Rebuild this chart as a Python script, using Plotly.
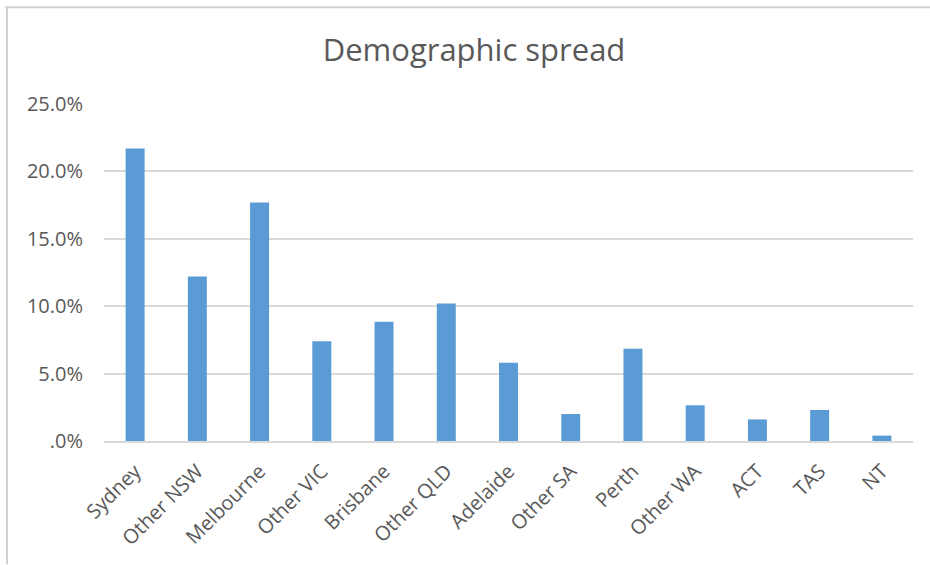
import plotly.graph_objects as go

# Share of respondents by region
regions = ["Sydney", "Other NSW", "Melbourne", "Other VIC", "Brisbane", "Other QLD",
           "Adelaide", "Other SA", "Perth", "Other WA", "ACT", "TAS", "NT"]
shares = [0.217, 0.122, 0.177, 0.074, 0.0885, 0.102,
          0.058, 0.020, 0.0685, 0.0265, 0.016, 0.023, 0.004]

y_tick_vals = [0, 0.05, 0.10, 0.15, 0.20, 0.25]
y_tick_text = [".0%", "5.0%", "10.0%", "15.0%", "20.0%", "25.0%"]

W, H = 930, 565
ML, MR, MT, MB = 104, 17, 104, 123.5
plot_w = W - ML - MR
plot_h = H - MT - MB


def px_x(px):
    return (px - ML) / plot_w


def px_y(py):
    return (H - MB - py) / plot_h


font_family = "Open Sans, Noto Sans, sans-serif"
text_color = "#595959"
grid_color = "#D9D9D9"

fig = go.Figure(
    go.Bar(
        x=regions,
        y=shares,
        marker=dict(color="#5B9BD5", line=dict(width=0)),
        width=0.305,
    )
)

fig.update_layout(
    width=W,
    height=H,
    margin=dict(l=ML, r=MR, t=MT, b=MB, pad=0),
    paper_bgcolor="white",
    plot_bgcolor="white",
    showlegend=False,
    font=dict(family=font_family, color=text_color, size=20),
    title=dict(
        text="Demographic spread",
        font=dict(family=font_family, size=31, color=text_color),
        x=474 / W,
        xanchor="center",
        y=1 - 50 / H,
        yanchor="middle",
        xref="container",
        yref="container",
    ),
    xaxis=dict(
        tickangle=-45,
        showgrid=False,
        showline=True,
        linecolor=grid_color,
        linewidth=1.5,
        ticks="",
        ticklabelstandoff=9,
        tickfont=dict(size=20, color=text_color),
        range=[-0.5, len(regions) - 0.5],
    ),
    yaxis=dict(
        range=[0, 0.25],
        tickvals=y_tick_vals,
        ticktext=y_tick_text,
        showgrid=True,
        gridcolor=grid_color,
        gridwidth=1.5,
        zeroline=False,
        showline=False,
        ticks="",
        ticklabelstandoff=20,
        tickfont=dict(size=20, color=text_color),
    ),
    shapes=[
        # chart-area frame (top and left edges)
        dict(type="line", xref="paper", yref="paper",
             x0=px_x(5), x1=px_x(W), y0=px_y(7), y1=px_y(7),
             line=dict(color="#D0D0D0", width=2)),
        dict(type="line", xref="paper", yref="paper",
             x0=px_x(7), x1=px_x(7), y0=px_y(7), y1=px_y(H),
             line=dict(color="#D0D0D0", width=2)),
    ],
)

fig.write_html("out.html")
